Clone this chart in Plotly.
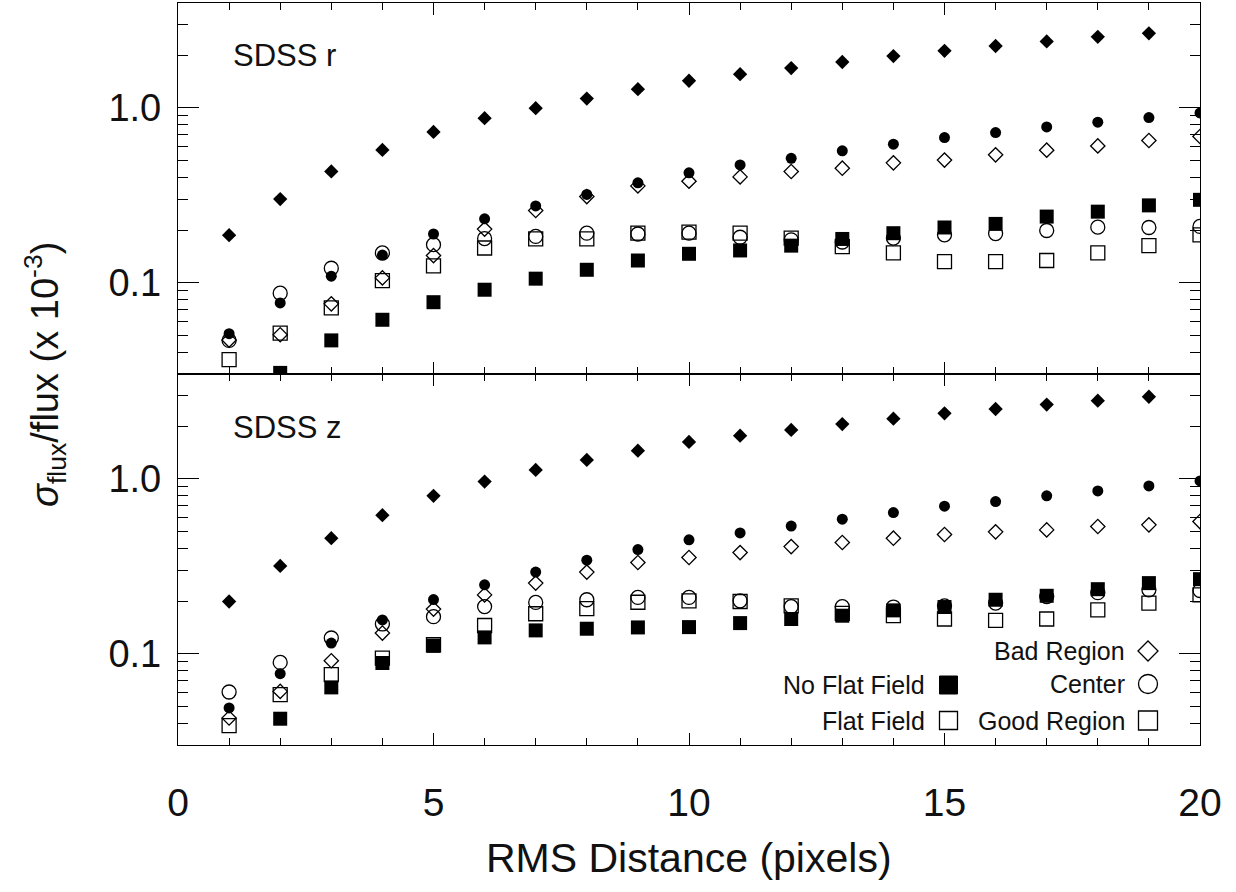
import plotly.graph_objects as go

# ---------------- data ----------------
x_all = list(range(1, 21))
x_to19 = list(range(1, 20))
x_from2 = list(range(2, 21))

# SDSS r (top panel)
r_bad_noff = [0.187, 0.301, 0.433, 0.575, 0.729, 0.873, 0.996, 1.13, 1.28, 1.43,
              1.56, 1.69, 1.83, 1.98, 2.12, 2.26, 2.40, 2.55, 2.67]
r_center_noff = [0.0511, 0.0766, 0.109, 0.144, 0.190, 0.232, 0.275, 0.320, 0.373, 0.425,
                 0.472, 0.515, 0.568, 0.620, 0.677, 0.723, 0.778, 0.829, 0.880, 0.936]
r_bad_ff = [0.047, 0.0504, 0.0757, 0.1066, 0.143, 0.2026, 0.259, 0.311, 0.358, 0.381,
            0.403, 0.433, 0.452, 0.485, 0.503, 0.539, 0.573, 0.606, 0.651, 0.686]
r_center_ff = [0.0468, 0.0871, 0.121, 0.148, 0.165, 0.179, 0.184, 0.192, 0.190, 0.192,
               0.182, 0.176, 0.171, 0.180, 0.188, 0.191, 0.199, 0.208, 0.207, 0.210]
r_good_noff = [0.0305, 0.0468, 0.0614, 0.0774, 0.0912, 0.1055, 0.1186, 0.134, 0.1464,
               0.153, 0.163, 0.178, 0.192, 0.207, 0.217, 0.239, 0.255, 0.277, 0.298]
r_good_ff = [0.0363, 0.0515, 0.0718, 0.1027, 0.125, 0.158, 0.178, 0.178, 0.192, 0.1945,
             0.192, 0.180, 0.161, 0.148, 0.132, 0.132, 0.134, 0.148, 0.163, 0.188]

# SDSS z (bottom panel)
z_bad_noff = [0.199, 0.318, 0.458, 0.620, 0.800, 0.965, 1.126, 1.284, 1.451, 1.627,
              1.768, 1.905, 2.06, 2.21, 2.373, 2.51, 2.66, 2.80, 2.95]
z_center_noff = [0.049, 0.0769, 0.115, 0.156, 0.204, 0.248, 0.293, 0.343, 0.394, 0.448,
                 0.491, 0.537, 0.588, 0.642, 0.698, 0.742, 0.800, 0.854, 0.912, 0.974]
z_bad_ff = [0.0429, 0.0609, 0.0912, 0.1313, 0.180, 0.217, 0.2535, 0.293, 0.3326, 0.355,
            0.379, 0.410, 0.4325, 0.458, 0.481, 0.498, 0.511, 0.534, 0.546, 0.570]
z_center_ff = [0.0604, 0.0892, 0.123, 0.148, 0.163, 0.186, 0.1965, 0.2036, 0.210, 0.210,
               0.2007, 0.186, 0.186, 0.185, 0.188, 0.195, 0.2124, 0.2236, 0.232, 0.230]
z_good_noff = [0.0425, 0.0642, 0.0885, 0.111, 0.124, 0.136, 0.139, 0.1414, 0.142,
               0.1497, 0.158, 0.165, 0.177, 0.185, 0.2036, 0.2145, 0.234, 0.2535, 0.267]
z_good_ff = [0.0388, 0.0583, 0.0759, 0.0945, 0.1126, 0.145, 0.1693, 0.181, 0.197, 0.2007,
             0.199, 0.188, 0.170, 0.165, 0.158, 0.155, 0.158, 0.178, 0.195, 0.217]

y_tickvals = [0.1, 1.0]
y_ticktext = ["0.1", "1.0"]
y_minor = [0.04, 0.05, 0.06, 0.07, 0.08, 0.09, 0.2, 0.3, 0.4, 0.5, 0.6, 0.7, 0.8, 0.9, 2, 3]
x_tickvals = [0, 5, 10, 15, 20]
x_ticktext = ["0", "5", "10", "15", "20"]

panel_labels = ["SDSS r", "SDSS z"]
legend_shape_labels = ["Bad Region", "Center", "Good Region"]
legend_fill_labels = ["No Flat Field", "Flat Field"]

# ---------------- figure ----------------
FONT = "Liberation Sans, Arial, Helvetica, sans-serif"
W, H = 1236, 892
ML, MR, MT, MB = 178, 36, 3, 147
PW, PH = W - ML - MR, H - MT - MB


def px(xp):
    return (xp - ML) / PW


def py(yp):
    return (H - MB - yp) / PH


styles = {
    "bad_noff": dict(symbol="diamond", size=11, color="black"),
    "center_noff": dict(symbol="circle", size=11, color="black"),
    "good_noff": dict(symbol="square", size=14, color="black"),
    "bad_ff": dict(symbol="diamond-open", size=11, color="black", line=dict(width=1.3)),
    "center_ff": dict(symbol="circle-open", size=14, color="black", line=dict(width=1.3)),
    "good_ff": dict(symbol="square-open", size=14, color="black", line=dict(width=1.3)),
}

fig = go.Figure()

panels = [
    ("x2", "y2", dict(bad_noff=(x_to19, r_bad_noff), center_noff=(x_all, r_center_noff),
                      good_noff=(x_from2, r_good_noff), bad_ff=(x_all, r_bad_ff),
                      center_ff=(x_all, r_center_ff), good_ff=(x_all, r_good_ff))),
    ("x", "y", dict(bad_noff=(x_to19, z_bad_noff), center_noff=(x_all, z_center_noff),
                    good_noff=(x_from2, z_good_noff), bad_ff=(x_all, z_bad_ff),
                    center_ff=(x_all, z_center_ff), good_ff=(x_all, z_good_ff))),
]
order = ["good_ff", "good_noff", "center_ff", "bad_ff", "center_noff", "bad_noff"]
for xa, ya, series in panels:
    for key in order:
        xs, ys = series[key]
        fig.add_trace(go.Scatter(x=xs, y=ys, mode="markers", marker=styles[key],
                                 xaxis=xa, yaxis=ya, showlegend=False, cliponaxis=True,
                                 hoverinfo="skip"))

yrange = [-1.522, 0.6]
common_y = dict(type="log", range=yrange, tickmode="array", tickvals=y_tickvals,
                ticktext=y_ticktext, ticks="inside", ticklen=21, tickwidth=1.4,
                tickcolor="black", showline=True, linewidth=1.3, linecolor="black",
                mirror="allticks", showgrid=False, zeroline=False,
                tickfont=dict(family=FONT, size=38, color="#111"),
                ticklabelstandoff=8,
                minor=dict(tickmode="array", tickvals=y_minor, ticks="inside",
                           ticklen=10, tickwidth=1.4, tickcolor="black", showgrid=False))
common_x = dict(range=[0, 20], tickmode="array", tickvals=x_tickvals, ticktext=x_ticktext,
                ticks="inside", ticklen=12, tickwidth=1.4, tickcolor="black",
                showline=True, linewidth=1.3, linecolor="black", mirror="allticks",
                showgrid=False, zeroline=False,
                minor=dict(dtick=1, tick0=0, ticks="inside", ticklen=7, tickwidth=1.4,
                           tickcolor="black", showgrid=False))

fig.update_layout(
    width=W, height=H,
    margin=dict(l=ML, r=MR, t=MT, b=MB, autoexpand=False),
    paper_bgcolor="white", plot_bgcolor="white",
    showlegend=False,
    xaxis=dict(**common_x, anchor="y", domain=[0, 1],
               tickfont=dict(family=FONT, size=39, color="#111"), ticklabelstandoff=23),
    xaxis2=dict(**common_x, anchor="y2", matches="x", showticklabels=False),
    yaxis=dict(**common_y, anchor="x", domain=[0, 0.5]),
    yaxis2=dict(**common_y, anchor="x2", domain=[0.5, 1]),
)

annotations = []
# panel labels
annotations.append(dict(text=panel_labels[0], x=px(231), y=py(55), xref="paper", yref="paper",
                        xanchor="left", yanchor="middle", showarrow=False,
                        font=dict(family=FONT, size=31, color="#111")))
annotations.append(dict(text=panel_labels[1], x=px(231), y=py(427), xref="paper", yref="paper",
                        xanchor="left", yanchor="middle", showarrow=False,
                        font=dict(family=FONT, size=31, color="#111")))
# axis titles
annotations.append(dict(text="RMS Distance (pixels)", x=0.5, y=py(858), xref="paper",
                        yref="paper", xanchor="center", yanchor="middle", showarrow=False,
                        font=dict(family=FONT, size=41, color="#111")))
annotations.append(dict(text="<i>σ</i><sub>flux</sub>/flux (x 10<sup>-3</sup>)",
                        x=px(45), y=py(375), xref="paper", yref="paper", textangle=-90,
                        xanchor="center", yanchor="middle", showarrow=False,
                        font=dict(family=FONT, size=38, color="#111")))
# legend texts
leg_font = dict(family=FONT, size=25, color="#111")
for lab, yp in zip(legend_shape_labels, [651, 684, 720.5]):
    annotations.append(dict(text=lab, x=px(1127), y=py(yp), xref="paper", yref="paper",
                            xanchor="right", yanchor="middle", showarrow=False, font=leg_font))
for lab, yp in zip(legend_fill_labels, [685, 720.5]):
    annotations.append(dict(text=lab, x=px(927), y=py(yp), xref="paper", yref="paper",
                            xanchor="right", yanchor="middle", showarrow=False, font=leg_font))
fig.update_layout(annotations=annotations)

# legend key symbols (decorations)
lw = dict(color="black", width=1.3)
shape_common = dict(xref="paper", yref="paper", xsizemode="pixel", ysizemode="pixel")
shapes = [
    dict(type="path", path="M -10 0 L 0 10 L 10 0 L 0 -10 Z", xanchor=px(1148), yanchor=py(651),
         line=lw, fillcolor="rgba(0,0,0,0)", **shape_common),
    dict(type="circle", x0=-9.5, x1=9.5, y0=-9.5, y1=9.5, xanchor=px(1148), yanchor=py(684),
         line=lw, **shape_common),
    dict(type="rect", x0=-9.5, x1=9.5, y0=-9.5, y1=9.5, xanchor=px(1148), yanchor=py(720.5),
         line=lw, **shape_common),
    dict(type="rect", x0=-9, x1=9, y0=-9, y1=9, xanchor=px(948.5), yanchor=py(685),
         line=dict(color="black", width=1), fillcolor="black", **shape_common),
    dict(type="rect", x0=-9, x1=9, y0=-9, y1=9, xanchor=px(948.5), yanchor=py(720.5),
         line=lw, **shape_common),
]
fig.update_layout(shapes=shapes)

fig.write_html("out.html", config={"displayModeBar": False},
               post_script="document.body.style.margin='0';")
